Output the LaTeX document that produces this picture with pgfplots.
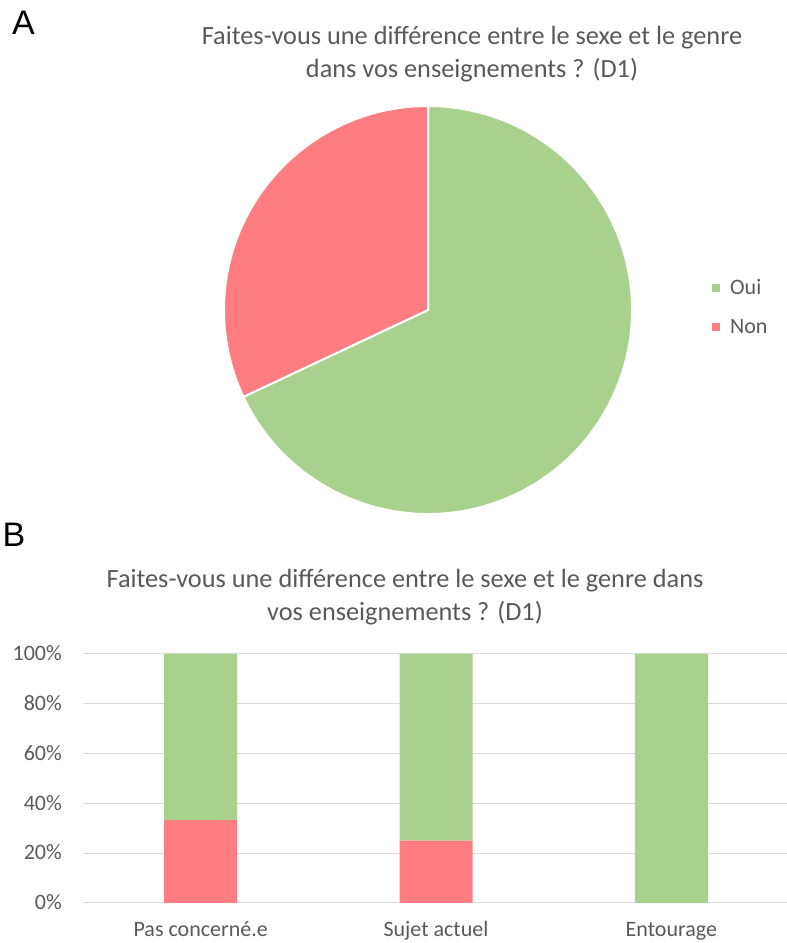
\documentclass[border=0pt]{standalone}
\usepackage{pgfplots}
\pgfplotsset{compat=1.18}
\usepackage{pgfplotstable}
\usepackage{fontspec}
\setmainfont{Carlito}
\newfontfamily\arialfont{Liberation Sans}
\definecolor{oui}{HTML}{A9D18E}
\definecolor{non}{HTML}{FF7C80}
\definecolor{txt}{HTML}{595959}
\definecolor{gridc}{HTML}{D9D9D9}

\pgfplotstableread{
cat oui non
0 66.667 33.333
1 75 25
2 100 0
}\bardata

\pgfplotstableread{
name value
Oui 17
Non 8
}\piedata

\begin{document}
\begin{tikzpicture}
\path[use as bounding box] (0pt,0pt) rectangle (787pt,943pt);

\pgfplotstablegetelem{0}{value}\of\piedata \let\vOui\pgfplotsretval
\pgfplotstablegetelem{1}{value}\of\piedata \let\vNon\pgfplotsretval
\pgfmathsetmacro\angNon{90+360*\vNon/(\vOui+\vNon)}

\coordinate (pieC) at (428pt,633pt);
\coordinate (barSW) at (83pt,40pt);

% panel letters
\node[anchor=base west, inner sep=0pt, font=\arialfont\fontsize{34}{40}\selectfont] at (12pt,908pt) {A};
\node[anchor=base west, inner sep=0pt, font=\arialfont\fontsize{34}{40}\selectfont] at (2.3pt,396pt) {B};

% titles
\node[anchor=base, inner sep=0pt, font=\fontsize{26.3}{33}\selectfont, text=txt] at (472pt,898pt) {Faites-vous une différence entre le sexe et le genre};
\node[anchor=base, inner sep=0pt, font=\fontsize{26.3}{33}\selectfont, text=txt] at (472pt,865pt) {dans vos enseignements ? (D1)};
\node[anchor=base, inner sep=0pt, font=\fontsize{26.3}{33}\selectfont, text=txt] at (405pt,355pt) {Faites-vous une différence entre le sexe et le genre dans};
\node[anchor=base, inner sep=0pt, font=\fontsize{26.3}{33}\selectfont, text=txt] at (405pt,322pt) {vos enseignements ? (D1)};

% pie chart
\begin{axis}[at={(pieC)}, anchor=center, width=408pt, height=408pt, scale only axis,
  xmin=-1, xmax=1, ymin=-1, ymax=1, hide axis, clip=false,
  legend style={draw=none, fill=none, at={(1.196,0.507)}, anchor=west,
    font=\fontsize{22}{26}\selectfont, text=txt, row sep=19pt, column sep=8pt, inner sep=0pt},
  legend cell align=left,
  legend image code/.code={\fill[#1] (0pt,-4pt) rectangle (8pt,4pt);}]
  \addlegendimage{fill=oui, draw=none}
  \addlegendentry{Oui}
  \addlegendimage{fill=non, draw=none}
  \addlegendentry{Non}
  \filldraw[fill=oui, draw=white, line width=2pt] (axis cs:0,0) -- ++(\angNon:204pt) arc[start angle=\angNon, end angle=450, radius=204pt] -- cycle;
  \filldraw[fill=non, draw=white, line width=2pt] (axis cs:0,0) -- ++(90:204pt) arc[start angle=90, end angle=\angNon, radius=204pt] -- cycle;
\end{axis}

% stacked bars
\begin{axis}[at={(barSW)}, anchor=south west, width=706pt, height=249pt, scale only axis,
  xmin=-0.5, xmax=2.5, ymin=0, ymax=100, ybar stacked, bar width=73pt,
  xtick={0,1,2}, xticklabels={Pas concerné.e, Sujet actuel, Entourage},
  ytick={0,20,...,100}, yticklabel={\pgfmathprintnumber{\tick}\%},
  ymajorgrids, grid style={gridc, line width=1pt},
  axis line style={draw=none}, major tick style={draw=none},
  tick label style={font=\fontsize{22}{26}\selectfont, text=txt},
  /pgf/number format/assume math mode=true,
  yticklabel style={anchor=base east, inner sep=0pt, xshift=-21pt, yshift=-6.7pt},
  xticklabel style={anchor=base, inner sep=0pt, yshift=-34pt},
  clip=false]
  \addplot[fill=non, draw=none] table[x=cat, y=non] {\bardata};
  \addplot[fill=oui, draw=none] table[x=cat, y=oui] {\bardata};
\end{axis}
\end{tikzpicture}
\end{document}
